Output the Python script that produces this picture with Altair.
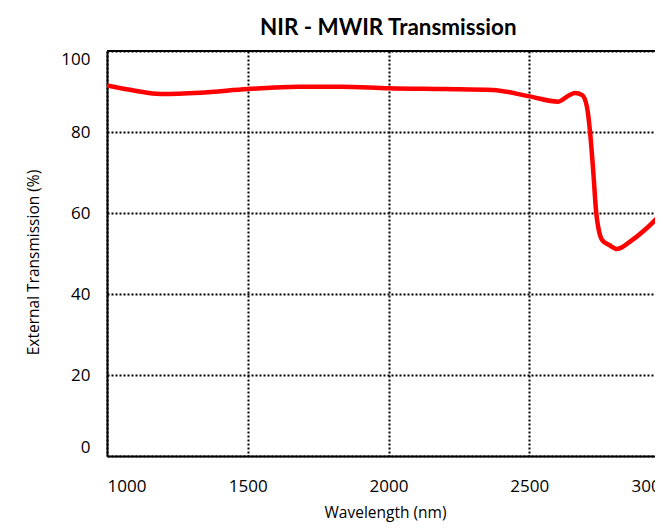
import altair as alt
import pandas as pd

wavelength = [1000, 1100, 1190, 1330, 1500, 1680, 1830, 2000, 2200, 2370, 2500,
              2603, 2640, 2663, 2688, 2705, 2716, 2727, 2738, 2745, 2759, 2784,
              2812, 2865, 2918, 2972, 3000]
transmission = [91.5, 90.2, 89.4, 89.7, 90.6, 91.2, 91.2, 90.8, 90.6, 90.4, 88.8,
                87.5, 89.0, 89.6, 89.1, 86.2, 80.0, 70.6, 60.0, 56.5, 53.3, 52.1,
                51.1, 53.3, 56.3, 60.0, 62.0]
x_ticks = [1000, 1500, 2000, 2500, 3000]
y_ticks = [0, 20, 40, 60, 80, 100]

df = pd.DataFrame({"wl": wavelength, "t": transmission})

FONT = "Open Sans"

x_axis = alt.Axis(values=x_ticks, title="Wavelength (nm)", format="d",
                  labelFlush=True, labelPadding=22, ticks=False,
                  domain=True, domainColor="black", domainWidth=2,
                  grid=True, gridColor="black", gridDash=[2, 2], gridWidth=2,
                  labelFontSize=17, labelFont=FONT, labelColor="black",
                  titleFontSize=15.5, titleFont=FONT, titleFontWeight="normal",
                  titleColor="black", titleX=278, titleY=61,
                  titleBaseline="alphabetic")
y_axis = alt.Axis(values=y_ticks, title="External Transmission (%)",
                  labelFlush=True, labelPadding=17, ticks=False,
                  domain=True, domainColor="black", domainWidth=2,
                  grid=True, gridColor="black", gridDash=[2, 2], gridWidth=2,
                  labelFontSize=17, labelFont=FONT, labelColor="black",
                  titleFontSize=15.5, titleFont=FONT, titleFontWeight="normal",
                  titleColor="black", titleX=-74, titleY=211,
                  titleBaseline="middle")

line = alt.Chart(df).mark_line(
    color="#ff0000", strokeWidth=4.5, interpolate="monotone", clip=True
).encode(
    x=alt.X("wl:Q", scale=alt.Scale(domain=[1000, 3000], range=[0, 563], nice=False),
            axis=x_axis),
    y=alt.Y("t:Q", scale=alt.Scale(domain=[0, 100], nice=False), axis=y_axis),
)

top_border = alt.Chart(df).mark_rule(color="black", strokeWidth=2).encode(
    y=alt.datum(100)
)

chart = alt.layer(line, top_border).properties(
    width=548,
    height=405,
    title=alt.TitleParams("NIR - MWIR Transmission", fontSize=22.4, font="Lato",
                          fontWeight="bold", color="black", anchor="start",
                          frame="group", dx=153, offset=11),
    autosize=alt.AutoSizeParams(type="none"),
    padding={"left": 99, "top": 43, "right": 0, "bottom": 67},
).configure_view(
    stroke=None
)

chart.save("out.html", embed_options={"renderer": "svg", "actions": False})
